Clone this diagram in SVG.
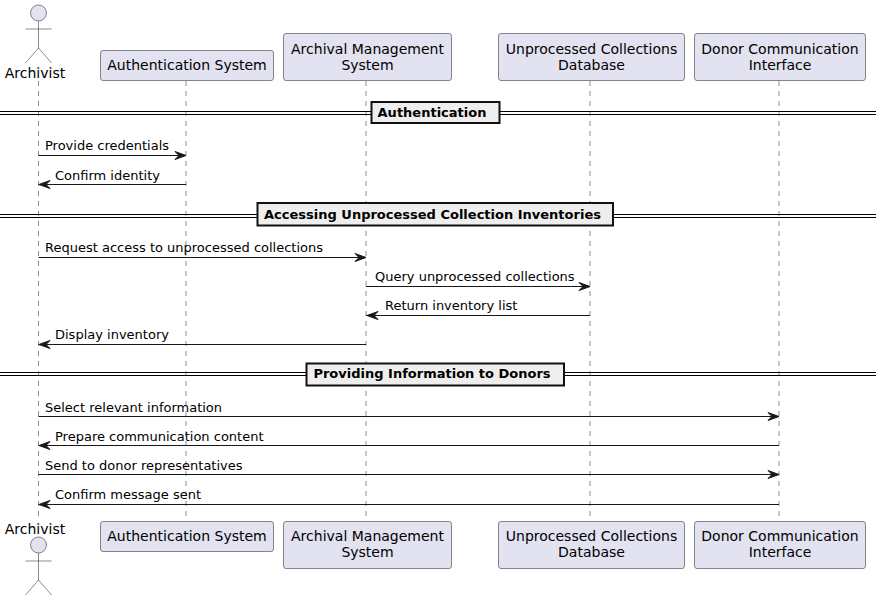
<svg xmlns="http://www.w3.org/2000/svg" width="876" height="601" viewBox="0 0 876 601">
<style>
text{font-family:"DejaVu Sans",sans-serif;fill:#000}
.n{font-size:14px;text-anchor:middle}
.m{font-size:13px}
.d{font-size:13px;font-weight:bold;text-anchor:middle}
.p{fill:#E2E2F0;stroke:#181818;stroke-width:.5}
.s{fill:none;stroke:#181818;stroke-width:.5}
.l{stroke:#181818;stroke-width:.5;stroke-dasharray:5,5;fill:none}
.a{stroke:#181818;stroke-width:1;fill:none}
.h{fill:#181818;stroke:#181818;stroke-width:1}
.r{fill:none;stroke:#000;stroke-width:1.2}
.b{fill:#EEE;stroke:#111;stroke-width:2}
</style>
<defs>
<g id="man"><circle class="p" cx="0" cy="0" r="8"/><path class="s" d="M0 8V35M-13 16H13M0 35L-13 50M0 35L13 50"/></g>
<path id="ar" class="h" d="M0 0L-11-4-7 0-11 4Z"/>
<path id="al" class="h" d="M0 0L11-4 7 0 11 4Z"/>
</defs>
<g id="lifelines">
<path class="l" d="M38.5 81V521M186 81V521M366 81V521M590 81V521M779 81V521"/>
</g>
<g id="dividers">
<g id="div1"><path class="r" d="M0 111.500H876M0 114.500H876"/><rect class="b" x="371.500" y="102" width="128" height="21"/><text class="d" x="432" y="117">Authentication</text></g>
<g id="div2"><path class="r" d="M0 214.500H876M0 217.500H876"/><rect class="b" x="257.500" y="203" width="355.500" height="22.500"/><text class="d" x="432.500" y="219">Accessing Unprocessed Collection Inventories</text></g>
<g id="div3"><path class="r" d="M0 372.500H876M0 375.500H876"/><rect class="b" x="306.500" y="363.500" width="257.500" height="22"/><text class="d" x="432" y="378">Providing Information to Donors</text></g>
</g>
<g id="connectors">
<g id="c1"><path class="a" d="M38.500 155.500H186"/><use href="#ar" x="186" y="155.500"/><text class="m" x="45" y="150">Provide credentials</text></g>
<g id="c2"><path class="a" d="M38.500 184.500H186"/><use href="#al" x="39" y="184.500"/><text class="m" x="55" y="180">Confirm identity</text></g>
<g id="c3"><path class="a" d="M38.500 257.500H366"/><use href="#ar" x="366" y="257.500"/><text class="m" x="45" y="252">Request access to unprocessed collections</text></g>
<g id="c4"><path class="a" d="M366 286.500H590"/><use href="#ar" x="590" y="286.500"/><text class="m" x="375" y="281">Query unprocessed collections</text></g>
<g id="c5"><path class="a" d="M366 315.500H590"/><use href="#al" x="367" y="315.500"/><text class="m" x="385" y="310">Return inventory list</text></g>
<g id="c6"><path class="a" d="M38.500 344.500H366"/><use href="#al" x="39" y="344.500"/><text class="m" x="55" y="339">Display inventory</text></g>
<g id="c7"><path class="a" d="M38.500 416.500H779"/><use href="#ar" x="779" y="416.500"/><text class="m" x="45" y="412">Select relevant information</text></g>
<g id="c8"><path class="a" d="M38.500 445.500H779"/><use href="#al" x="39" y="445.500"/><text class="m" x="55" y="441">Prepare communication content</text></g>
<g id="c9"><path class="a" d="M38.500 474.500H779"/><use href="#ar" x="779" y="474.500"/><text class="m" x="45" y="470">Send to donor representatives</text></g>
<g id="c10"><path class="a" d="M38.500 504.500H779"/><use href="#al" x="39" y="504.500"/><text class="m" x="55" y="499">Confirm message sent</text></g>
</g>
<g id="archivist-top"><use href="#man" x="38.500" y="13"/><text class="n" x="35" y="78">Archivist</text></g>
<g id="auth-top"><rect class="p" x="100.500" y="50.500" width="173" height="30" rx="2.500"/><text class="n" x="187" y="70">Authentication System</text></g>
<g id="ams-top"><rect class="p" x="283.500" y="33.500" width="168" height="47" rx="2.500"/><text class="n" x="367.500" y="54">Archival Management</text><text class="n" x="367.500" y="70">System</text></g>
<g id="ucd-top"><rect class="p" x="498.500" y="33.500" width="186" height="47" rx="2.500"/><text class="n" x="591.500" y="54">Unprocessed Collections</text><text class="n" x="591.500" y="70">Database</text></g>
<g id="dci-top"><rect class="p" x="694.500" y="33.500" width="171" height="47" rx="2.500"/><text class="n" x="780" y="54">Donor Communication</text><text class="n" x="780" y="70">Interface</text></g>
<g id="archivist-bottom"><text class="n" x="35" y="534">Archivist</text><use href="#man" x="38.500" y="545"/></g>
<g id="auth-bottom"><rect class="p" x="100.500" y="521.500" width="173" height="30" rx="2.500"/><text class="n" x="187" y="541">Authentication System</text></g>
<g id="ams-bottom"><rect class="p" x="283.500" y="521.500" width="168" height="47" rx="2.500"/><text class="n" x="367.500" y="541">Archival Management</text><text class="n" x="367.500" y="557">System</text></g>
<g id="ucd-bottom"><rect class="p" x="498.500" y="521.500" width="186" height="47" rx="2.500"/><text class="n" x="591.500" y="541">Unprocessed Collections</text><text class="n" x="591.500" y="557">Database</text></g>
<g id="dci-bottom"><rect class="p" x="694.500" y="521.500" width="171" height="47" rx="2.500"/><text class="n" x="780" y="541">Donor Communication</text><text class="n" x="780" y="557">Interface</text></g>
</svg>
